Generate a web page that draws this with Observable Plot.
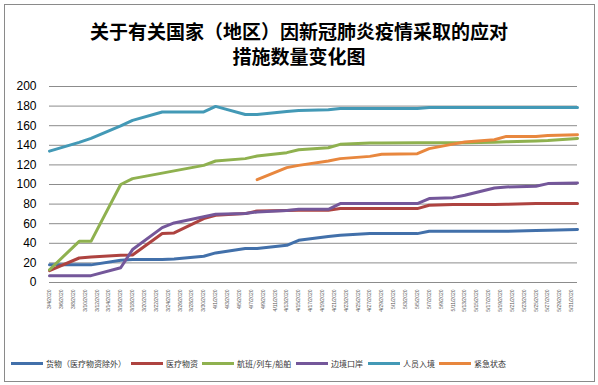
<!DOCTYPE html>
<html>
<head>
<meta charset="utf-8">
<script src="https://cdn.jsdelivr.net/npm/d3@7"></script>
<script src="https://cdn.jsdelivr.net/npm/@observablehq/plot@0.6"></script>
<style>
  html, body { margin: 0; padding: 0; background: #fff; }
  #wrap { position: relative; width: 598px; height: 385px; overflow: hidden; background: #fff; }
  #frame { position: absolute; left: 4px; top: 4px; width: 589px; height: 376px; border: 1px solid #8a8a8a; box-sizing: content-box; }
  #title { position: absolute; left: 0; top: 18px; width: 598px; text-align: center; font-family: "Noto Sans CJK SC", sans-serif; font-weight: 700; font-size: 19px; line-height: 25px; color: #000; }
  #chart { position: absolute; left: 0; top: 70px; }
  #legend { position: absolute; left: 0; top: 355px; width: 598px; height: 16px; font-family: "Noto Sans CJK SC", sans-serif; font-size: 8px; color: #333; }
  .item { position: absolute; top: 0; display: flex; align-items: center; height: 16px; white-space: nowrap; }
  .sw { width: 32px; height: 3px; margin-right: 3px; }
</style>
</head>
<body>
<div id="wrap">
  <div id="frame"></div>
  <div id="title">关于有关国家（地区）因新冠肺炎疫情采取的应对<br>措施数量变化图</div>
  <div id="chart"></div>
  <div id="legend"></div>
</div>
<script>
// ---- data ----
const tickLabels = [
  "3/4/2020","3/6/2020","3/8/2020","3/10/2020","3/12/2020","3/14/2020","3/16/2020","3/18/2020","3/20/2020",
  "3/22/2020","3/24/2020","3/26/2020","3/28/2020","3/30/2020",
  "4/1/2020","4/3/2020","4/5/2020","4/7/2020","4/9/2020","4/11/2020","4/13/2020","4/15/2020","4/17/2020",
  "4/19/2020","4/21/2020","4/23/2020","4/25/2020","4/27/2020","4/29/2020",
  "5/1/2020","5/3/2020","5/5/2020","5/7/2020","5/9/2020","5/11/2020","5/13/2020","5/15/2020","5/17/2020",
  "5/19/2020","5/21/2020","5/23/2020","5/25/2020","5/27/2020","5/29/2020","5/31/2020"
];
const yTicks = [0, 20, 40, 60, 80, 100, 120, 140, 160, 180, 200];
const dates = [
  "3/4/2020","3/9/2020","3/11/2020","3/16/2020","3/18/2020","3/23/2020","3/25/2020","3/30/2020",
  "4/1/2020","4/6/2020","4/8/2020","4/13/2020","4/15/2020","4/20/2020","4/22/2020","4/27/2020","4/29/2020",
  "5/5/2020","5/7/2020","5/11/2020","5/13/2020","5/18/2020","5/20/2020","5/25/2020","5/27/2020","6/1/2020"
];
const seriesNames = ["货物（医疗物资除外）", "医疗物资", "航班/列车/船舶", "边境口岸", "人员入境", "紧急状态"];
const seriesColors = ["#4270AA", "#AE4340", "#8FB14F", "#74579A", "#4399B6", "#E8873E"];
const cargo     = [18, 18, 18, 22.7, 23.4, 23.4, 24, 26.8, 30.2, 34.7, 34.7, 38, 43.1, 47, 48.2, 49.9, 49.9, 49.9, 52.3, 52.3, 52.3, 52.3, 52.3, 53, 53.3, 54];
const medical   = [12, 25, 26, 27.8, 28, 50, 50.6, 65.2, 68.6, 70.3, 73, 73.5, 73.7, 73.7, 75.4, 75.4, 75.4, 75.4, 78.8, 79.5, 79.5, 79.5, 79.8, 80.5, 80.5, 80.5];
const transport = [13, 42, 42, 100, 106, 111.6, 113.9, 119.5, 124, 126.4, 129, 132.5, 135.5, 137.5, 141, 142.3, 142.3, 142.5, 142.5, 142.5, 142.5, 143, 143.5, 144.5, 145, 147];
const borders   = [7, 7, 7, 15, 33.6, 56, 60.8, 67, 69.6, 70.3, 72, 73.5, 74.7, 74.7, 80.5, 80.5, 80.5, 80.5, 85.6, 86.6, 89, 96.4, 97.5, 98.2, 100.9, 101.5];
const entry     = [134, 143, 147, 159.8, 165.4, 174, 174, 174, 179.7, 171.5, 171.5, 174.6, 175.6, 176.3, 177.5, 177.5, 177.5, 177.5, 178.5, 178.5, 178.5, 178.5, 178.5, 178.5, 178.5, 178.5];
const emergency = [null, null, null, null, null, null, null, null, null, null, 105, 117.2, 119.5, 124, 126.4, 128.7, 130.8, 131.5, 136.6, 141.2, 143.3, 145.7, 149.1, 149, 150.1, 150.8];

// ---- build ----
const parseDate = s => { const [m, d, y] = s.split("/").map(Number); return new Date(Date.UTC(y, m - 1, d)); };
const fmtDate = d => `${d.getUTCMonth() + 1}/${d.getUTCDate()}/${d.getUTCFullYear()}`;
const xDates = dates.map(parseDate);
const tickDates = tickLabels.map(parseDate);
const seriesValues = [cargo, medical, transport, borders, entry, emergency];
const seriesData = seriesValues.map((vals, k) => vals.map((v, i) => ({date: xDates[i], value: v, series: seriesNames[k]})));

const chart = Plot.plot({
  width: 598,
  height: 260,
  marginLeft: 49,
  marginRight: 21,
  marginTop: 16,
  marginBottom: 48,
  style: {fontFamily: "'Liberation Sans', Arial, sans-serif", background: "transparent", overflow: "visible"},
  x: {type: "utc", domain: [parseDate("3/4/2020"), parseDate("6/1/2020")]},
  y: {domain: [0, 200]},
  marks: [
    Plot.gridY(yTicks, {stroke: "#8c8c8c", strokeOpacity: 1, strokeWidth: 1}),
    Plot.axisY(yTicks, {tickSize: 0, tickPadding: 13, fontSize: 12, fill: "#000", label: null}),
    Plot.axisX(tickDates, {tickSize: 0, tickRotate: -90, tickPadding: 7, fontSize: 5, fill: "#595959", label: null, tickFormat: fmtDate}),
    Plot.ruleY([0], {stroke: "#8c8c8c", strokeWidth: 1}),
    ...seriesData.map((data, k) => Plot.line(data, {x: "date", y: "value", stroke: seriesColors[k], strokeWidth: 3}))
  ]
});
document.getElementById("chart").appendChild(chart);

// ---- legend ----
const legendLefts = [11, 131, 202, 296, 368, 439];
const legend = document.getElementById("legend");
seriesNames.forEach((name, k) => {
  const item = document.createElement("div");
  item.className = "item";
  item.style.left = legendLefts[k] + "px";
  const sw = document.createElement("div");
  sw.className = "sw";
  sw.style.background = seriesColors[k];
  const label = document.createElement("span");
  label.textContent = name;
  item.appendChild(sw);
  item.appendChild(label);
  legend.appendChild(item);
});
</script>
</body>
</html>
